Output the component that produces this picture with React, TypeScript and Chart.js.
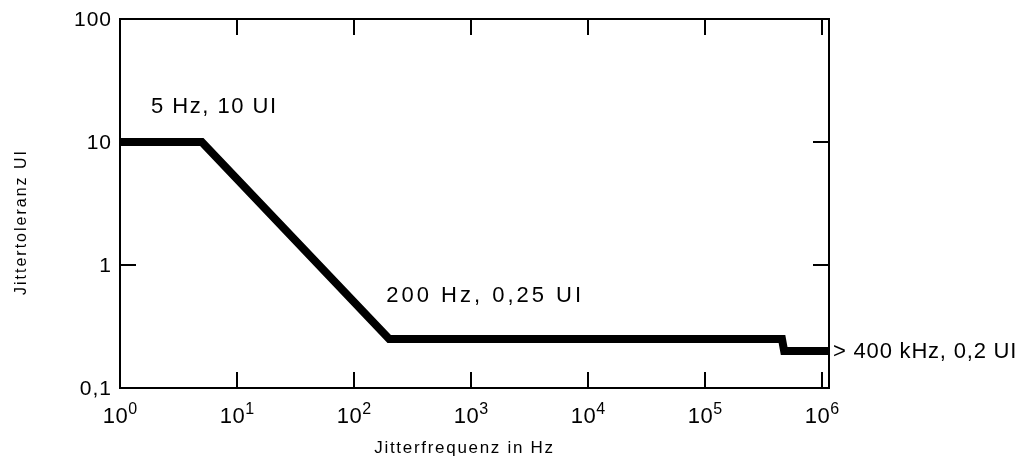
import React, { useEffect, useRef } from "react";
import { Chart, registerables } from "chart.js";

Chart.register(...registerables);

// Data: jitter tolerance mask (frequency in Hz, tolerance in UI)
const freqHz: number[] = [1, 5, 200, 455000, 475000, 1148000];
const tolUI: number[] = [10, 10, 0.25, 0.25, 0.2, 0.2];

const xTickExponents: number[] = [0, 1, 2, 3, 4, 5, 6];
const yTickValues: number[] = [100, 10, 1, 0.1];
const yTickLabels: string[] = ["100", "10", "1", "0,1"];

const xTitle = "Jitterfrequenz in Hz";
const yTitle = "Jittertoleranz UI";

const annotations: { text: string; x: number; y: number; dx: number; dy: number; sp: number }[] = [
  { text: "5 Hz, 10 UI", x: 1, y: 10, dx: 31, dy: -29, sp: 1.5 },
  { text: "200 Hz, 0,25 UI", x: 200, y: 0.25, dx: -3, dy: -37, sp: 3 },
  { text: "> 400 kHz, 0,2 UI", x: 1148000, y: 0.2, dx: 4, dy: 7, sp: 0.8 },
];

const FONT = "Arial, 'Liberation Sans', sans-serif";

const framePlugin = {
  id: "framePlugin",
  afterDraw(chart: any) {
    const ctx: CanvasRenderingContext2D = chart.ctx;
    const { left, right, top, bottom } = chart.chartArea;
    const xs = chart.scales.x;
    const ys = chart.scales.y;
    ctx.save();
    ctx.strokeStyle = "#000";
    ctx.fillStyle = "#000";
    ctx.lineWidth = 2;
    ctx.strokeRect(left, top, right - left, bottom - top);

    const tl = 16;
    ctx.beginPath();
    xTickExponents.forEach((e) => {
      const px = Math.round(xs.getPixelForValue(Math.pow(10, e)));
      if (px <= left + 2 || px >= right - 2) return;
      ctx.moveTo(px, bottom);
      ctx.lineTo(px, bottom - tl);
      ctx.moveTo(px, top);
      ctx.lineTo(px, top + tl);
    });
    yTickValues.forEach((v) => {
      const py = Math.round(ys.getPixelForValue(v));
      if (py <= top + 2 || py >= bottom - 2) return;
      ctx.moveTo(left, py);
      ctx.lineTo(left + tl, py);
      ctx.moveTo(right, py);
      ctx.lineTo(right - tl, py);
    });
    ctx.stroke();

    // y tick labels
    (ctx as any).letterSpacing = "1px";
    ctx.font = `21px ${FONT}`;
    ctx.textAlign = "right";
    ctx.textBaseline = "middle";
    yTickValues.forEach((v, i) => {
      const py = ys.getPixelForValue(v);
      ctx.fillText(yTickLabels[i], left - 8, py + 1);
    });

    // x tick labels: 10^n
    ctx.textAlign = "left";
    ctx.textBaseline = "alphabetic";
    xTickExponents.forEach((e) => {
      const px = xs.getPixelForValue(Math.pow(10, e));
      ctx.font = `22px ${FONT}`;
      (ctx as any).letterSpacing = "0.5px";
      const base = "10";
      const wb = ctx.measureText(base).width;
      ctx.font = `16px ${FONT}`;
      (ctx as any).letterSpacing = "0px";
      const ws = ctx.measureText(String(e)).width;
      const x0 = px - (wb + ws) / 2;
      ctx.font = `22px ${FONT}`;
      (ctx as any).letterSpacing = "0.5px";
      ctx.fillText(base, x0, bottom + 35);
      ctx.font = `16px ${FONT}`;
      (ctx as any).letterSpacing = "0px";
      ctx.fillText(String(e), x0 + wb, bottom + 26);
    });

    // annotations
    ctx.font = `22px ${FONT}`;
    ctx.textAlign = "left";
    annotations.forEach((a) => {
      (ctx as any).letterSpacing = `${a.sp}px`;
      const px = xs.getPixelForValue(a.x) + a.dx;
      const py = ys.getPixelForValue(a.y) + a.dy;
      ctx.fillText(a.text, px, py);
    });

    // axis titles
    ctx.font = `17px ${FONT}`;
    (ctx as any).letterSpacing = "1.7px";
    ctx.textAlign = "center";
    ctx.fillText(xTitle, (left + right) / 2 - 10, bottom + 65);

    ctx.save();
    ctx.translate(26, 222);
    ctx.rotate(-Math.PI / 2);
    ctx.font = `16px ${FONT}`;
    (ctx as any).letterSpacing = "2px";
    ctx.textAlign = "center";
    ctx.fillText(yTitle, 0, 0);
    ctx.restore();

    ctx.restore();
  },
};

export default function App() {
  const ref = useRef<HTMLCanvasElement | null>(null);
  useEffect(() => {
    if (!ref.current) return;
    const chart = new Chart(ref.current, {
      type: "line",
      data: {
        datasets: [
          {
            data: freqHz.map((f, i) => ({ x: f, y: tolUI[i] })),
            borderColor: "#000",
            borderWidth: 8,
            pointRadius: 0,
            fill: false,
            tension: 0,
            borderJoinStyle: "miter",
          },
        ],
      },
      options: {
        animation: false,
        responsive: false,
        devicePixelRatio: 1,
        layout: { padding: { left: 120, top: 19, right: 192, bottom: 71 } },
        plugins: { legend: { display: false }, tooltip: { enabled: false } },
        scales: {
          x: { type: "logarithmic", min: 1, max: 1148000, display: false },
          y: { type: "logarithmic", min: 0.1, max: 100, display: false },
        },
      },
      plugins: [framePlugin],
    } as any);
    return () => chart.destroy();
  }, []);
  return (
    <div style={{ position: "absolute", left: 0, top: 0, width: 1021, height: 459, background: "#fff" }}>
      <canvas ref={ref} width={1021} height={459} style={{ display: "block" }} />
    </div>
  );
}
